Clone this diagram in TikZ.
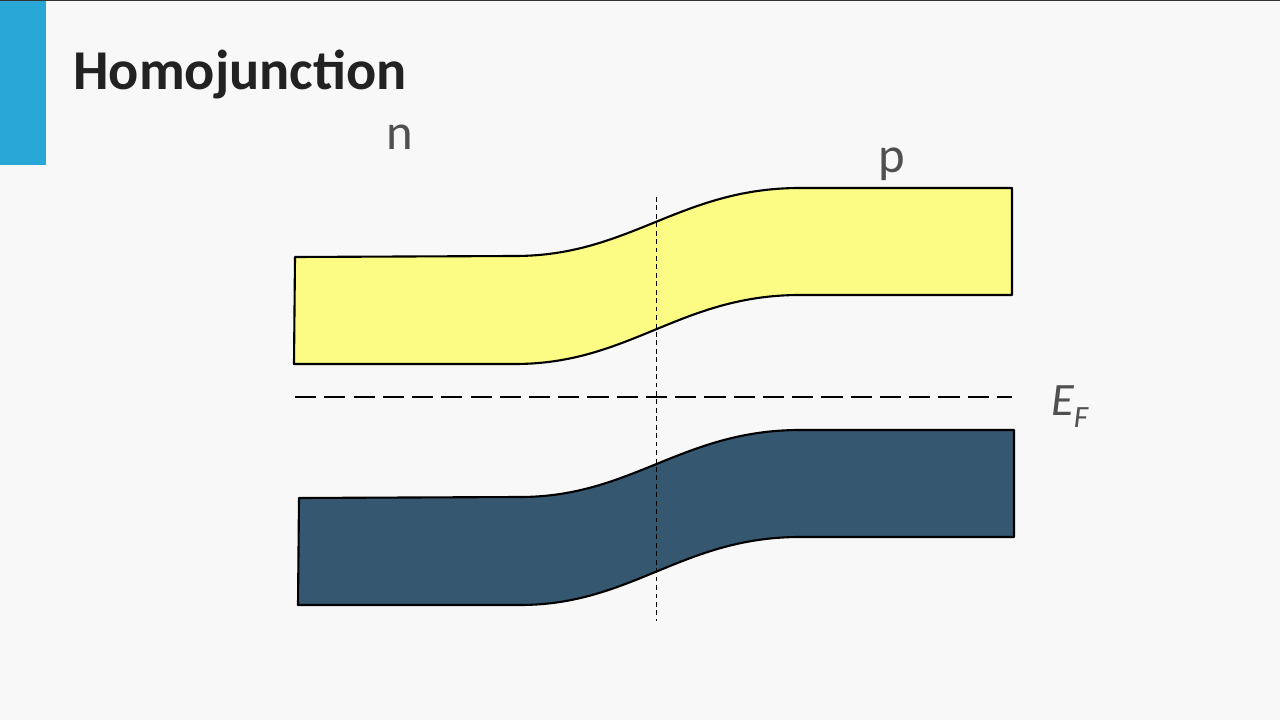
\documentclass[tikz,border=0pt]{standalone}
\usepackage{fontspec}
\setmainfont{Carlito}
\usepackage{tikz}
\usetikzlibrary{positioning}
\definecolor{slidebg}{RGB}{248,248,248}
\definecolor{accent}{RGB}{41,168,216}
\definecolor{condband}{RGB}{252,252,132}
\definecolor{valband}{RGB}{53,88,112}
\definecolor{labelgray}{RGB}{80,80,80}
\definecolor{titleink}{RGB}{34,34,34}
\tikzset{
  band/.style={draw=black, line width=1.5pt, line join=round},
  cband/.style={band, fill=condband},
  vband/.style={band, fill=valband},
  fermi/.style={draw=black, line width=1.4pt, dash pattern=on 15pt off 5.8pt},
  junction/.style={draw=black, line width=0.7pt, dash pattern=on 3.4pt off 2.6pt},
  label/.style={inner sep=0pt, text=labelgray, font=\fontsize{36}{40}\selectfont},
}

\begin{document}
\begin{tikzpicture}[x=0.025cm, y=-0.025cm]
  \useasboundingbox (0,0) rectangle (1280,720);
  \fill[slidebg] (0,0) rectangle (1280,720);
  \fill[accent] (0,0) rectangle (46,165);
  \fill[black!80] (0,0) rectangle (1280,1.5);

  % title and side labels
  \node[anchor=base west, inner sep=0pt, text=titleink,
        font=\fontsize{40}{44}\selectfont\bfseries] (title) at (73,90) {Homojunction};
  \node[label, anchor=base] (nside) at (400,150) {n};
  \node[label, anchor=base] (pside) at (892,173) {p};

  % conduction band
  \draw[cband] (295,257) -- (515,256) .. controls (630,256) and (680,188) .. (800,188)
    -- (1012,188) -- (1012,295) -- (800,295) .. controls (680,295) and (630,364) .. (515,364)
    -- (294,364) -- cycle;

  % valence band
  \draw[vband] (299,498) -- (520,497) .. controls (632,497) and (682,430) .. (800,430)
    -- (1014,430) -- (1014,537) -- (800,537) .. controls (682,537) and (632,605) .. (520,605)
    -- (298,605) -- cycle;

  % Fermi level
  \coordinate (efl) at (295,397);
  \coordinate (efr) at (1012,397);
  \draw[fermi] (efl) -- (efr);
  \node[label, anchor=base west, font=\fontsize{33}{36}\selectfont\itshape] (fermilabel) at (1051,415)
    {E\raisebox{-0.28em}{\fontsize{22}{24}\selectfont F}};

  % junction
  \coordinate (jtop) at (656,197);
  \coordinate (jbot) at (656,621);
  \draw[junction] (jtop) -- (jbot);
\end{tikzpicture}
\end{document}
